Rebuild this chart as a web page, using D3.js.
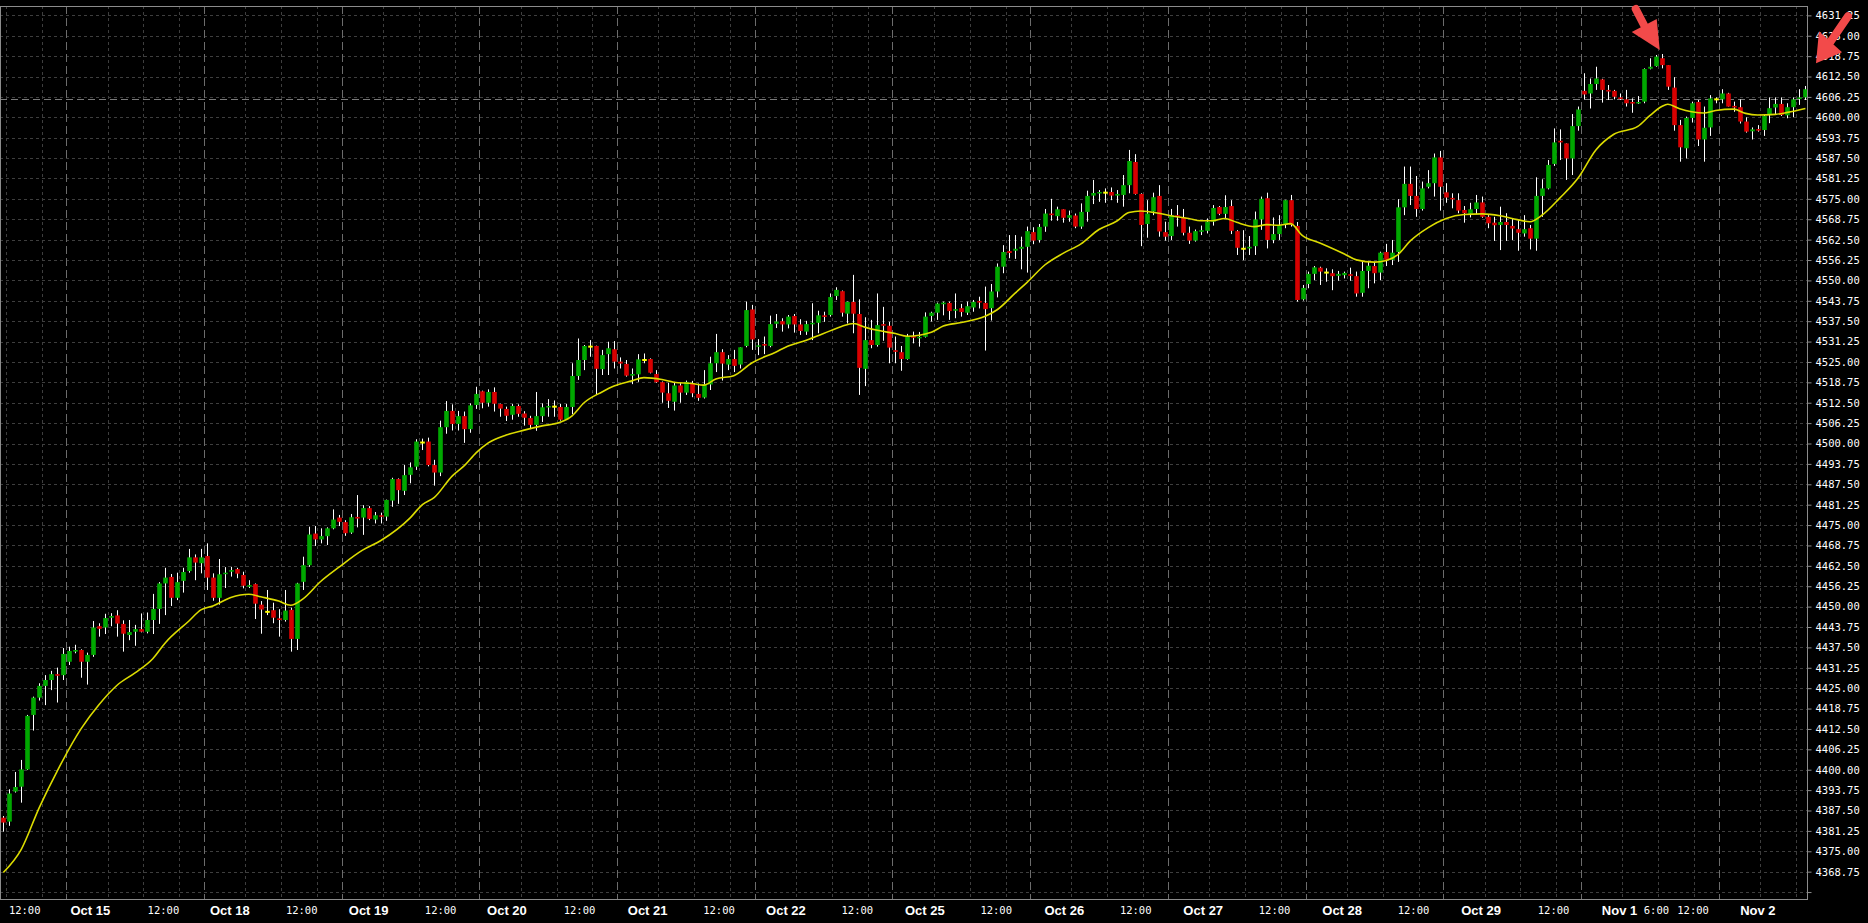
<!DOCTYPE html>
<html><head><meta charset="utf-8">
<script src="https://cdn.jsdelivr.net/npm/d3@7/dist/d3.min.js"></script>
<style>html,body{margin:0;padding:0;background:#000;overflow:hidden}</style>
</head><body>
<svg id="chart" width="1868" height="923"></svg>
<script>
// ---------- DATA (hourly OHLC) ----------
const opens = [
4385.3,4384.1,4393.3,4394.8,4400.1,4416.8,4422.1,4425.7,4427.5,4429.3,4429.0,4433.1,4436.2,4436.7,4433.1,4435.2,4444.0,4443.6,4446.6,4447.3,
4444.7,4441.3,4442.3,4443.1,4442.3,4445.9,4449.3,4457.1,4459.1,4452.7,4457.9,4460.9,4465.1,4463.3,4465.5,4458.9,4452.7,4460.0,4460.7,4461.5,
4459.7,4456.1,4456.9,4450.6,4448.4,4448.9,4446.4,4445.9,4449.0,4440.1,4457.6,4462.7,4472.4,4470.6,4471.6,4474.0,4477.3,4475.9,4472.7,4477.5,
4477.3,4480.2,4476.7,4478.0,4477.6,4482.5,4489.1,4485.5,4490.4,4492.9,4500.3,4500.6,4493.4,4491.1,4505.0,4510.0,4506.0,4508.4,4504.4,4511.8,
4516.0,4512.5,4515.8,4512.1,4510.6,4508.8,4511.5,4509.2,4507.8,4505.7,4508.4,4511.1,4511.3,4511.2,4507.4,4511.2,4520.7,4525.6,4529.7,4529.9,
4522.8,4527.4,4528.9,4525.1,4524.4,4520.8,4521.2,4525.6,4525.9,4521.3,4518.8,4515.4,4512.8,4517.8,4515.6,4518.4,4515.2,4514.1,4518.1,4524.6,
4528.0,4524.2,4525.9,4524.2,4529.9,4541.1,4529.7,4530.5,4529.9,4536.7,4537.5,4536.5,4539.1,4536.5,4534.3,4536.6,4537.0,4539.3,4539.4,4545.2,
4546.7,4539.8,4543.4,4539.7,4522.9,4531.7,4530.2,4536.6,4536.1,4528.6,4528.0,4525.9,4532.9,4532.3,4532.7,4539.1,4540.1,4542.7,4543.1,4540.7,
4541.5,4540.1,4541.7,4543.7,4543.1,4541.5,4546.6,4554.2,4559.0,4559.1,4559.7,4560.3,4564.8,4562.4,4566.5,4570.5,4569.7,4571.8,4569.2,4569.9,
4566.5,4571.0,4576.0,4576.7,4576.9,4577.1,4576.0,4576.2,4579.2,4586.3,4576.5,4567.3,4571.1,4575.9,4564.8,4563.6,4570.0,4569.3,4564.6,4562.2,
4564.9,4565.2,4568.0,4572.5,4570.4,4572.8,4565.1,4559.7,4559.8,4560.5,4568.7,4575.2,4562.4,4564.2,4567.0,4574.6,4566.7,4544.2,4548.9,4552.0,
4553.9,4552.4,4552.2,4551.4,4551.6,4551.9,4551.3,4546.2,4552.9,4554.4,4552.4,4558.7,4556.3,4558.7,4572.4,4579.6,4575.9,4571.9,4578.7,4579.8,
4587.7,4577.0,4575.3,4574.6,4571.6,4570.4,4571.9,4573.9,4569.5,4567.7,4567.0,4567.9,4566.7,4565.7,4564.4,4566.0,4562.8,4575.9,4578.2,4585.7,
4592.8,4592.0,4587.4,4597.3,4608.1,4607.3,4610.2,4611.6,4608.4,4608.1,4606.1,4605.5,4604.7,4604.3,4604.8,4614.9,4615.7,4618.1,4616.0,4609.1,
4597.6,4590.5,4599.8,4604.7,4593.2,4596.9,4605.5,4605.5,4607.3,4603.5,4603.1,4598.7,4595.7,4596.4,4596.1,4600.7,4603.0,4604.1,4600.6,4603.1,
4605.6,4606.1];
const highs = [
4385.8,4394.0,4399.3,4403.0,4416.8,4422.4,4426.5,4429.0,4430.3,4431.3,4437.3,4437.7,4438.3,4436.9,4435.9,4445.6,4444.9,4447.8,4448.0,4448.9,
4445.8,4445.9,4444.4,4447.9,4448.2,4453.9,4457.5,4461.9,4460.0,4460.4,4461.9,4467.7,4466.0,4467.7,4469.4,4460.2,4464.6,4462.1,4462.2,4461.9,
4460.7,4458.1,4457.1,4451.7,4455.1,4451.2,4449.2,4455.1,4449.7,4457.3,4465.3,4474.5,4474.7,4474.0,4474.3,4479.8,4478.1,4476.5,4478.4,4484.2,
4481.1,4480.8,4479.0,4478.8,4482.8,4489.5,4489.3,4493.4,4494.2,4501.3,4501.5,4501.8,4495.0,4507.0,4513.0,4512.0,4510.0,4509.8,4512.3,4517.4,
4516.2,4516.6,4517.2,4512.2,4511.3,4512.1,4512.0,4509.9,4508.5,4515.8,4512.3,4513.6,4513.2,4512.1,4512.1,4524.6,4532.2,4530.2,4531.7,4530.0,
4528.7,4531.2,4531.4,4526.4,4525.6,4523.0,4527.4,4527.6,4526.1,4522.5,4519.0,4518.6,4518.9,4518.6,4519.3,4519.2,4518.4,4522.5,4526.6,4533.6,
4528.9,4527.1,4528.7,4529.5,4543.5,4542.5,4532.0,4532.8,4539.2,4539.7,4538.4,4539.4,4539.7,4538.1,4537.6,4543.0,4540.7,4540.4,4546.0,4547.9,
4546.9,4543.5,4551.7,4544.2,4538.7,4537.9,4546.0,4541.9,4537.3,4532.8,4529.9,4533.6,4534.3,4534.2,4540.2,4540.4,4543.2,4543.5,4543.5,4546.0,
4542.8,4543.5,4544.0,4545.0,4548.1,4548.9,4555.2,4560.8,4563.9,4563.9,4563.4,4566.5,4566.3,4567.3,4571.9,4575.0,4572.6,4571.8,4571.4,4570.5,
4573.6,4577.5,4580.8,4577.7,4578.2,4578.5,4577.7,4582.3,4590.0,4588.7,4576.7,4574.6,4576.9,4579.2,4568.0,4571.9,4573.1,4571.9,4566.5,4565.6,
4566.8,4569.0,4573.1,4572.8,4576.1,4574.6,4565.4,4565.4,4563.6,4571.1,4575.7,4576.9,4569.3,4570.0,4574.7,4576.2,4567.9,4548.6,4552.7,4554.4,
4554.2,4553.7,4553.4,4552.9,4552.7,4553.9,4552.7,4555.7,4555.7,4555.7,4558.8,4561.2,4562.4,4574.9,4584.9,4584.9,4582.0,4580.3,4583.8,4588.9,
4589.7,4579.8,4576.7,4576.7,4572.8,4573.8,4576.2,4575.7,4570.0,4569.5,4572.6,4570.6,4568.8,4568.5,4570.0,4567.0,4581.6,4581.0,4586.9,4596.6,
4596.3,4592.0,4601.0,4603.3,4613.5,4611.9,4615.5,4611.8,4609.9,4608.4,4607.3,4608.4,4605.8,4606.5,4615.0,4618.1,4619.1,4619.4,4616.0,4612.3,
4599.2,4600.2,4604.8,4605.3,4603.3,4606.8,4606.1,4608.6,4607.5,4604.8,4605.5,4600.0,4596.9,4597.6,4600.7,4606.1,4606.1,4606.1,4604.3,4606.1,
4608.6,4609.6];
const lows = [
4381.0,4382.8,4393.0,4389.9,4399.9,4412.0,4421.2,4419.8,4424.4,4420.6,4427.5,4432.1,4435.7,4428.2,4426.1,4434.6,4440.8,4441.6,4444.0,4440.8,
4436.2,4439.7,4438.0,4442.1,4441.8,4441.6,4444.7,4447.4,4450.2,4452.0,4454.3,4460.4,4458.1,4460.2,4455.1,4451.8,4450.6,4455.7,4459.2,4458.7,
4455.6,4455.7,4446.2,4441.7,4447.4,4444.9,4440.8,4445.4,4436.2,4436.7,4455.1,4462.2,4468.6,4469.4,4468.9,4473.7,4474.7,4471.7,4472.3,4474.3,
4472.0,4476.5,4475.5,4475.5,4476.3,4480.6,4481.5,4484.2,4487.8,4491.9,4498.0,4493.0,4487.1,4490.0,4503.0,4504.0,4504.0,4500.2,4503.3,4510.6,
4510.8,4511.3,4509.8,4508.2,4506.9,4507.3,4508.2,4505.5,4504.4,4503.9,4506.6,4508.2,4508.2,4507.0,4507.2,4509.0,4519.5,4522.5,4526.6,4514.9,
4521.0,4521.0,4523.0,4523.0,4520.5,4518.2,4518.9,4524.6,4521.5,4518.6,4512.5,4510.9,4510.1,4512.5,4514.9,4514.2,4513.1,4513.8,4516.4,4521.9,
4519.3,4522.5,4521.9,4523.0,4529.5,4528.7,4527.1,4527.4,4529.5,4535.4,4534.3,4535.3,4534.0,4533.3,4533.3,4531.7,4533.8,4537.3,4538.9,4544.0,
4538.9,4536.8,4533.8,4514.9,4517.6,4529.2,4529.7,4531.5,4524.6,4524.6,4522.3,4525.7,4530.7,4529.7,4532.5,4537.4,4537.9,4539.3,4537.9,4538.4,
4538.9,4539.4,4540.4,4541.4,4528.5,4537.7,4544.8,4552.2,4556.8,4556.6,4553.4,4552.4,4561.1,4561.6,4564.9,4568.3,4568.3,4567.7,4568.0,4566.0,
4565.8,4568.0,4573.4,4574.1,4573.8,4574.6,4573.8,4572.6,4576.7,4576.3,4560.5,4563.1,4570.0,4563.4,4562.2,4562.4,4566.5,4563.8,4561.2,4561.9,
4563.9,4564.4,4566.8,4570.0,4569.0,4564.2,4557.8,4556.2,4557.8,4557.8,4565.5,4559.8,4561.4,4562.4,4566.0,4566.5,4543.5,4543.8,4547.6,4550.1,
4548.6,4549.6,4547.0,4549.9,4550.6,4549.9,4545.0,4545.0,4547.6,4549.1,4550.1,4554.4,4554.7,4555.7,4570.0,4573.1,4569.5,4571.4,4578.2,4575.7,
4571.4,4573.8,4572.1,4570.6,4567.7,4569.3,4570.3,4569.2,4566.0,4562.1,4559.3,4562.1,4562.4,4559.1,4563.4,4559.5,4559.1,4569.5,4577.9,4585.1,
4586.9,4580.8,4582.3,4595.9,4605.5,4602.7,4608.4,4604.5,4605.3,4605.5,4605.3,4603.3,4601.4,4604.1,4604.3,4614.7,4615.5,4615.0,4608.4,4595.9,
4586.4,4587.4,4598.4,4591.2,4586.4,4594.3,4604.3,4604.3,4603.3,4601.7,4598.1,4595.3,4593.2,4595.6,4594.3,4598.2,4601.0,4600.4,4599.7,4600.0,
4603.8,4605.3];
const closes = [
4383.8,4392.7,4394.7,4400.1,4416.5,4422.1,4425.7,4427.5,4429.3,4428.8,4435.5,4436.4,4436.7,4433.1,4435.2,4443.6,4443.2,4446.5,4447.1,4444.8,
4441.7,4442.2,4443.1,4442.3,4445.9,4449.3,4457.1,4458.9,4452.7,4457.5,4460.6,4465.1,4463.5,4465.1,4458.9,4452.7,4459.9,4460.4,4461.2,4460.1,
4456.4,4456.6,4450.9,4449.1,4448.4,4446.6,4445.9,4448.8,4440.1,4457.1,4462.7,4472.1,4470.6,4471.6,4474.0,4476.7,4476.0,4472.5,4477.4,4477.0,
4480.2,4476.9,4478.0,4477.6,4482.7,4489.1,4485.7,4490.3,4492.7,4500.6,4500.3,4493.4,4491.1,4505.0,4510.0,4506.0,4508.4,4504.4,4511.7,4515.2,
4512.5,4515.8,4512.2,4510.7,4508.5,4511.5,4509.1,4507.9,4505.7,4508.4,4511.1,4511.5,4511.3,4507.3,4511.2,4520.7,4525.6,4529.9,4529.7,4522.9,
4527.1,4529.2,4525.1,4524.5,4520.8,4521.3,4525.8,4525.6,4521.7,4518.8,4515.6,4513.1,4517.8,4515.6,4518.9,4515.4,4514.0,4518.1,4524.6,4528.0,
4524.5,4525.9,4523.8,4529.5,4540.9,4531.9,4530.1,4530.0,4536.6,4537.4,4536.5,4538.9,4536.5,4534.5,4536.6,4537.0,4539.3,4538.8,4544.9,4547.1,
4540.1,4543.4,4539.8,4523.2,4531.7,4530.2,4536.3,4536.1,4529.4,4528.1,4525.9,4532.9,4532.4,4532.7,4538.9,4540.1,4542.9,4543.2,4540.6,4541.2,
4540.3,4542.1,4543.4,4543.2,4541.2,4546.6,4554.2,4558.7,4558.4,4559.7,4560.3,4565.1,4562.2,4566.4,4570.5,4570.0,4571.8,4569.2,4570.0,4566.5,
4571.0,4575.9,4576.8,4577.1,4576.9,4576.0,4576.5,4579.2,4586.6,4576.5,4567.0,4570.5,4575.5,4565.0,4563.4,4570.0,4569.6,4564.6,4562.2,4565.1,
4565.4,4568.0,4572.2,4570.4,4572.5,4565.2,4560.0,4559.7,4560.3,4568.7,4575.0,4562.4,4564.2,4566.8,4574.6,4567.0,4544.0,4547.7,4552.0,4554.0,
4552.7,4552.4,4551.3,4552.0,4552.3,4551.4,4546.0,4552.9,4554.5,4552.2,4558.5,4556.3,4558.5,4572.4,4579.6,4575.9,4571.9,4578.2,4579.8,4587.7,
4578.7,4575.4,4574.9,4571.4,4570.6,4571.8,4573.9,4569.5,4567.5,4566.9,4567.9,4567.0,4565.9,4564.6,4565.7,4562.8,4575.9,4578.2,4585.4,4592.3,
4592.3,4587.4,4597.3,4602.4,4607.0,4610.2,4611.9,4608.4,4607.9,4606.3,4605.6,4604.3,4604.2,4604.7,4614.8,4615.5,4618.6,4616.0,4609.4,4597.6,
4590.8,4599.8,4604.3,4593.2,4596.8,4605.8,4605.5,4607.3,4603.3,4603.0,4598.7,4595.6,4596.3,4595.9,4600.4,4602.8,4604.1,4600.7,4603.1,4605.5,
4606.1,4608.6];

// moving-average line (yellow), read at these bar indices
const maIdx = [0,3,6,9,13,16,19,22,25,27,31,33,35,38,41,43,46,48,50,53,56,60,63,68,70,72,75,77,79,81,84,87,90,93,95,97,100,102,105,107,110,112,115,117,119,122,125,129,131,134,137,140,142,144,146,149,151,155,157,160,164,166,169,171,174,177,180,183,186,188,190,193,195,198,200,202,204,206,209,211,213,215,217,220,224,226,229,231,233,235,238,241,244,247,250,252,255,257,260,263,266,269,273,275,277,278,280,282,284,286,289,291,293,296,298,301];
const maVal = [4368.5,4375.6,4388.4,4399.6,4412.6,4420.0,4425.9,4429.7,4434.1,4438.8,4445.6,4449.0,4450.2,4452.8,4453.8,4453.0,4451.7,4450.4,4452.3,4457.7,4462.0,4467.3,4470.2,4477.3,4481.3,4483.5,4490.1,4493.2,4497.2,4500.2,4502.6,4504.1,4505.4,4506.5,4508.5,4512.5,4515.8,4517.6,4519.2,4520.2,4519.6,4518.8,4518.4,4517.9,4519.8,4520.8,4524.7,4528.0,4529.8,4531.6,4533.7,4535.9,4536.8,4535.6,4534.7,4533.7,4532.9,4534.1,4536.0,4537.1,4539.0,4541.0,4546.1,4549.4,4554.8,4558.3,4561.2,4565.6,4568.2,4570.8,4571.3,4570.6,4569.8,4569.0,4568.3,4568.3,4569.0,4567.8,4566.5,4567.1,4566.9,4567.4,4563.7,4561.4,4558.1,4556.3,4555.6,4556.1,4558.0,4562.1,4566.2,4569.0,4570.2,4570.4,4569.8,4569.0,4568.0,4570.0,4575.3,4581.3,4590.0,4594.8,4597.2,4600.5,4603.3,4604.0,4602.6,4601.7,4601.3,4602.1,4602.5,4601.2,4600.7,4600.9,4601.5,4602.7];

// price axis ticks
const priceTicks = [4362.5,4368.75,4375,4381.25,4387.5,4393.75,4400,4406.25,4412.5,4418.75,4425,4431.25,4437.5,4443.75,4450,4456.25,4462.5,4468.75,4475,4481.25,4487.5,4493.75,4500,4506.25,4512.5,4518.75,4525,4531.25,4537.5,4543.75,4550,4556.25,4562.5,4568.75,4575,4581.25,4587.5,4593.75,4600,4606.25,4612.5,4618.75,4625,4631.25];
const priceLabelMin = 4368.75;

// time axis labels (bar position where label text starts)
const timeLabels = ["12:00","Oct 15","12:00","Oct 18","12:00","Oct 19","12:00","Oct 20","12:00","Oct 21","12:00","Oct 22","12:00","Oct 25","12:00","Oct 26","12:00","Oct 27","12:00","Oct 28","12:00","Oct 29","12:00","Nov 1","6:00","12:00","Nov 2"];
const timeLabelPos = [0.93,11.2,24.1,34.5,47.2,57.7,70.4,80.8,93.6,104.3,116.9,127.4,140.0,150.6,163.2,173.9,186.5,197.1,209.7,220.3,232.9,243.5,256.3,267.0,274.0,279.6,290.1];
// day separators (between bars) and intraday grid lines
const daySeps = [10.5,33.5,56.5,79.5,102.5,125.5,148.5,171.5,194.5,217.5,240.5,263.5,286.5];
const gridPos = [0.4,6.4,17.4,23.4,29.4,40.4,46.4,52.4,63.4,69.4,75.4,86.4,92.4,98.4,109.4,115.4,121.4,132.4,138.4,144.4,155.4,161.4,167.4,178.4,184.4,190.4,201.4,207.4,213.4,224.4,230.4,236.4,247.4,253.4,259.4,270.4,276.4,282.4,293.4,299.4];
const refLine = 4605.75;   // dashed horizontal price line
const arrowBars = [277];   // bar the first red arrow points to
const arrowAxisPrice = 4616.25;

// ---------- DRAWING ----------
const W = 1868, H = 923;
const plot = {left: 0, top: 6, right: 1808, bottom: 899};
const svg = d3.select("#chart");
svg.append("rect").attr("width", W).attr("height", H).attr("fill", "#000");

const x = d3.scaleLinear().domain([0, 301]).range([3.33, 3.33 + 301 * 5.987]);
const y = d3.scaleLinear().domain([4360.37, 4634.12]).range([plot.bottom, plot.top]);

const g = svg.append("g");
// horizontal grid
g.selectAll("line.hg").data(priceTicks).join("line")
  .attr("x1", plot.left).attr("x2", plot.right)
  .attr("y1", d => Math.round(y(d)) + 0.5).attr("y2", d => Math.round(y(d)) + 0.5)
  .attr("stroke", "#3e3e3e").attr("stroke-width", 1).attr("stroke-dasharray", "3,3");
// vertical grid
g.selectAll("line.vg").data(gridPos).join("line")
  .attr("x1", d => Math.round(x(d)) + 0.5).attr("x2", d => Math.round(x(d)) + 0.5)
  .attr("y1", plot.top).attr("y2", plot.bottom)
  .attr("stroke", "#3e3e3e").attr("stroke-width", 1).attr("stroke-dasharray", "3,3");
// day separators
g.selectAll("line.sep").data(daySeps).join("line")
  .attr("x1", d => Math.round(x(d)) + 0.5).attr("x2", d => Math.round(x(d)) + 0.5)
  .attr("y1", plot.top).attr("y2", plot.bottom)
  .attr("stroke", "#6c6c6c").attr("stroke-width", 1).attr("stroke-dasharray", "8,4");
// reference dashed price line
g.append("line").attr("x1", plot.left).attr("x2", plot.right)
  .attr("y1", Math.round(y(refLine)) + 0.5).attr("y2", Math.round(y(refLine)) + 0.5)
  .attr("stroke", "#7a7a7a").attr("stroke-width", 1).attr("stroke-dasharray", "7,4");

// candles
const idx = d3.range(opens.length);
const bodyW = 4.6;
const cg = svg.append("g");
cg.selectAll("line.wick").data(idx).join("line")
  .attr("x1", i => Math.round(x(i)) + 0.5).attr("x2", i => Math.round(x(i)) + 0.5)
  .attr("y1", i => y(highs[i])).attr("y2", i => y(lows[i]))
  .attr("stroke", "#ffffff").attr("stroke-width", 1);
cg.selectAll("rect.body").data(idx).join("rect")
  .attr("x", i => Math.round(x(i)) + 0.5 - bodyW / 2)
  .attr("width", bodyW)
  .attr("y", i => opens[i] === closes[i] ? y(opens[i]) - 1 : y(Math.max(opens[i], closes[i])))
  .attr("height", i => opens[i] === closes[i] ? 2 : Math.max(1.5, Math.abs(y(opens[i]) - y(closes[i]))))
  .attr("fill", i => opens[i] === closes[i] ? "#ffff00" : (closes[i] > opens[i] ? "#00a800" : "#d80000"));

// moving average
const maPts = maIdx.map((d, k) => [d, maVal[k]]);
svg.append("path").datum(maPts)
  .attr("d", d3.line().x(d => x(d[0])).y(d => y(d[1])).curve(d3.curveMonotoneX))
  .attr("fill", "none").attr("stroke", "#dcdc00").attr("stroke-width", 1.6);

// frame
svg.append("rect").attr("x", plot.left + 0.5).attr("y", plot.top + 0.5)
  .attr("width", plot.right - plot.left - 1).attr("height", plot.bottom - plot.top)
  .attr("fill", "none").attr("stroke", "#8c8c8c").attr("stroke-width", 1);

// price axis
const yAxis = d3.axisRight(y).tickValues(priceTicks).tickSize(4).tickPadding(4)
  .tickFormat(d => d >= priceLabelMin ? d3.format(".2f")(d) : "");
const ya = svg.append("g").attr("transform", `translate(${plot.right - 0.5},0)`).call(yAxis);
ya.select(".domain").remove();
ya.selectAll(".tick line").attr("stroke", "#8c8c8c");
ya.selectAll(".tick text").attr("fill", "#ffffff")
  .style("font-family", "'DejaVu Sans Mono', monospace").style("font-size", "10.5px");

// time labels
svg.append("g").selectAll("text").data(timeLabels).join("text")
  .attr("x", (d, k) => x(timeLabelPos[k]))
  .attr("y", 910)
  .attr("dominant-baseline", "central")
  .attr("fill", "#ffffff")
  .style("font-family", d => d.includes(":") ? "'DejaVu Sans Mono', monospace" : "'Liberation Sans', Arial, sans-serif")
  .style("font-weight", d => d.includes(":") ? "normal" : "bold")
  .style("font-size", d => d.includes(":") ? "10.5px" : "13px")
  .text(d => d);

// red annotation arrows
function arrow(tipX, tipY, w1, w2, tail, color) {
  const a = svg.append("g");
  const bx = (w1[0] + w2[0]) / 2, by = (w1[1] + w2[1]) / 2;
  a.append("line").attr("x1", tail[0]).attr("y1", tail[1]).attr("x2", bx).attr("y2", by)
    .attr("stroke", color).attr("stroke-width", 8).attr("stroke-linecap", "round");
  a.append("path").attr("d", `M${tipX},${tipY}L${w1[0]},${w1[1]}L${w2[0]},${w2[1]}Z`).attr("fill", color);
}
const arrowColor = "#f24a4a";
const t1x = x(arrowBars[0]) - 2, t1y = y(highs[arrowBars[0]]) - 4;
arrow(t1x, t1y, [t1x - 28, t1y - 18], [t1x - 3, t1y - 31], [t1x - 24, t1y - 41], arrowColor);
const t2x = plot.right + 8, t2y = y(arrowAxisPrice) - 1;
arrow(t2x, t2y, [t2x + 3, t2y - 32], [t2x + 26, t2y - 11], [t2x + 32, t2y - 47], arrowColor);
</script>
</body></html>
